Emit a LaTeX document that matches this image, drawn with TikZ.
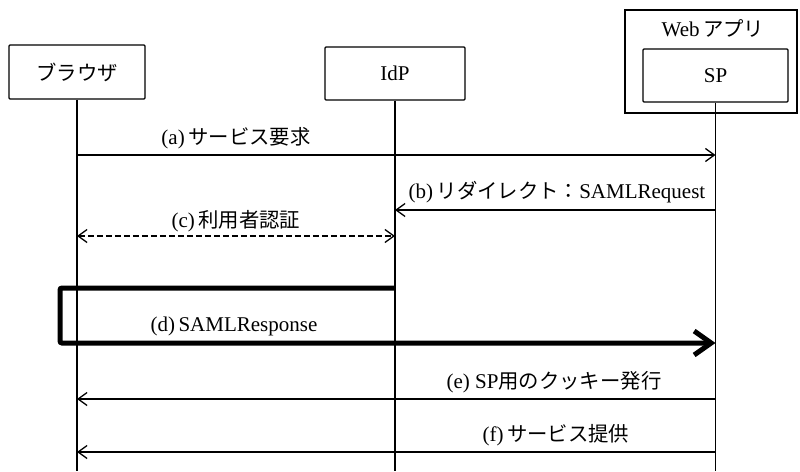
\documentclass[tikz,border=0pt]{standalone}
\usepackage{fontspec}
\setmainfont{Liberation Serif}
\newfontfamily\jpfont{Noto Sans CJK JP}[Scale=0.97]
\newcommand{\jp}[1]{{\jpfont #1}}
\usetikzlibrary{arrows.meta}
\tikzset{
  txt/.style={font=\fontsize{21}{25}\selectfont, inner sep=0pt},
  actor/.style={draw, line width=1.3pt, rounded corners=1pt, minimum width=#1, txt},
  life/.style={line width=1.2pt},
  msg/.style={line width=1.3pt, -{Straight Barb[length=9pt,width=13pt,line width=1.3pt]}},
  bigmsg/.style={line width=5pt, rounded corners=2pt, -{Straight Barb[length=17pt,width=24pt,line width=5pt]}},
  lbl/.style={txt}
}
\begin{document}
\begin{tikzpicture}[x=1pt,y=-1pt]
\useasboundingbox (0,0) rectangle (800,471);
% web app frame
\node[draw, line width=1.3pt, minimum width=172pt, minimum height=103pt, inner sep=0pt] (web) at (711,61.5) {};
\node[txt] (webt) at (713,28) {Web\,\jp{アプリ}};
% actors
\node[actor=136pt, minimum height=54pt] (b) at (77,72) {\jp{ブラウザ}};
\node[actor=140pt, minimum height=53pt] (i) at (395,73.5) {IdP};
\node[actor=145pt, minimum height=53pt] (s) at (715.5,75.5) {SP};
% lifelines
\coordinate (bend) at (b.south |- 0,471);
\coordinate (iend) at (i.south |- 0,471);
\coordinate (send) at (s.south |- 0,471);
\draw[life] (b.south) -- (bend);
\draw[life] (i.south) -- (iend);
\draw[life] (s.south) -- (send);
% message endpoints
\coordinate (ab) at (b.south |- 0,155);
\coordinate (as) at (s.south |- 0,155);
\coordinate (bs) at (s.south |- 0,210);
\coordinate (bi) at (i.south |- 0,210);
\coordinate (cb) at (b.south |- 0,236);
\coordinate (ci) at (i.south |- 0,236);
\coordinate (di) at (i.south |- 0,288);
\coordinate (d1) at (60,288);
\coordinate (d2) at (60,343);
\coordinate (ds) at (s.south |- 0,343);
\coordinate (es) at (s.south |- 0,399);
\coordinate (eb) at (b.south |- 0,399);
\coordinate (fs) at (s.south |- 0,452);
\coordinate (fb) at (b.south |- 0,452);
% messages
\draw[msg] (ab) -- (as);
\node[lbl] (la) at (236,138) {(a)\,\jp{サービス要求}};
\draw[msg] (bs) -- (bi);
\node[lbl] (lb) at (557,192) {(b)\,\jp{リダイレクト：}SAMLRequest};
\draw[msg, dashed, dash pattern=on 6pt off 3pt, {Straight Barb[length=9pt,width=13pt,line width=1.3pt]}-{Straight Barb[length=9pt,width=13pt,line width=1.3pt]}] (cb) -- (ci);
\node[lbl] (lc) at (236,221) {(c)\,\jp{利用者認証}};
\draw[bigmsg] (di) -- (d1) -- (d2) -- (ds);
\node[lbl] (ld) at (234,326) {(d)\,SAMLResponse};
\draw[msg] (es) -- (eb);
\node[lbl] (le) at (554,382) {(e) SP\jp{用のクッキー発行}};
\draw[msg] (fs) -- (fb);
\node[lbl] (lf) at (556,435) {(f)\,\jp{サービス提供}};
\end{tikzpicture}
\end{document}
